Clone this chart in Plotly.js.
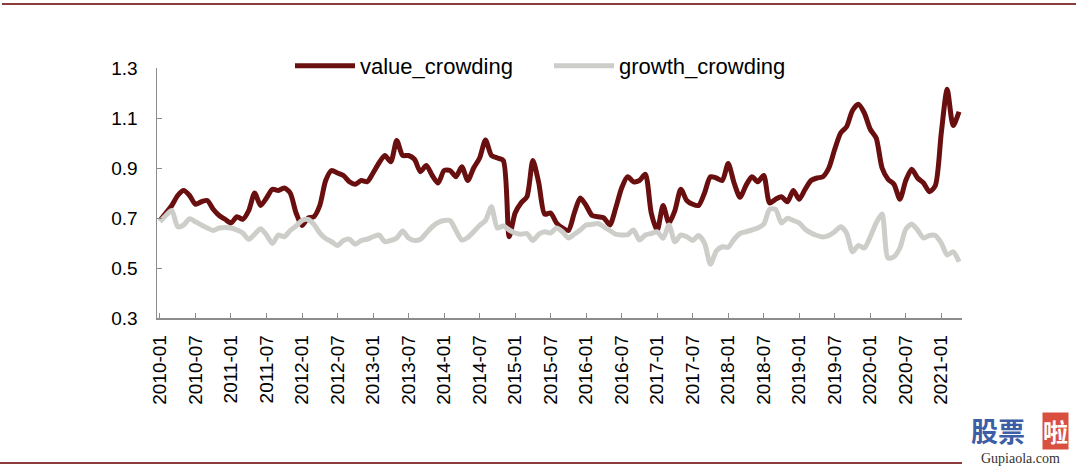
<!DOCTYPE html>
<html>
<head>
<meta charset="utf-8">
<script src="https://cdn.plot.ly/plotly-3.0.1.min.js"></script>
<style>html,body{margin:0;padding:0;background:#fff;}#chart{width:1080px;height:469px;}</style>
</head>
<body>
<div id="chart"></div>
<script>
// months 2010-01 .. 2021-04
var months = [];
for (var yr = 2010; yr <= 2021; yr++) {
  for (var m = 1; m <= 12; m++) {
    if (yr === 2021 && m > 4) break;
    months.push(yr + '-' + (m < 10 ? '0' + m : '' + m));
  }
}
var tickLabels = ['2010-01','2010-07','2011-01','2011-07','2012-01','2012-07','2013-01','2013-07','2014-01','2014-07','2015-01','2015-07','2016-01','2016-07','2017-01','2017-07','2018-01','2018-07','2019-01','2019-07','2020-01','2020-07','2021-01'];

var valueCrowding = [
0.69,0.72,0.75,0.79,0.81,0.79,0.755,0.765,0.77,0.735,0.71,0.695,
0.68,0.705,0.695,0.73,0.80,0.75,0.78,0.815,0.81,0.82,0.80,0.72,
0.67,0.70,0.705,0.75,0.85,0.89,0.88,0.87,0.845,0.835,0.85,0.845,
0.88,0.92,0.95,0.925,1.01,0.95,0.95,0.935,0.885,0.91,0.87,0.84,
0.89,0.89,0.865,0.905,0.85,0.90,0.94,1.012,0.95,0.94,0.93,0.625,
0.72,0.76,0.785,0.93,0.84,0.715,0.72,0.68,0.66,0.65,0.72,0.78,
0.75,0.71,0.705,0.70,0.672,0.74,0.82,0.865,0.845,0.85,0.875,0.72,
0.65,0.75,0.68,0.73,0.815,0.77,0.755,0.75,0.80,0.865,0.86,0.85,
0.918,0.84,0.783,0.83,0.865,0.845,0.87,0.76,0.775,0.785,0.765,0.81,
0.775,0.815,0.85,0.86,0.865,0.90,0.975,1.04,1.065,1.13,1.155,1.12,
1.055,1.02,0.90,0.855,0.835,0.775,0.85,0.895,0.86,0.84,0.805,0.83,
1.04,1.215,1.07,1.125];

var growthCrowding = [
0.685,0.71,0.73,0.665,0.672,0.697,0.685,0.672,0.66,0.65,0.66,0.662,
0.66,0.652,0.64,0.615,0.635,0.657,0.632,0.598,0.632,0.625,0.65,0.668,
0.69,0.694,0.675,0.64,0.618,0.605,0.59,0.61,0.615,0.595,0.61,0.615,
0.625,0.632,0.605,0.61,0.62,0.648,0.62,0.61,0.615,0.64,0.665,0.682,
0.69,0.69,0.65,0.612,0.622,0.645,0.67,0.69,0.745,0.66,0.668,0.652,
0.64,0.635,0.638,0.61,0.635,0.645,0.64,0.66,0.645,0.62,0.635,0.652,
0.672,0.675,0.678,0.665,0.65,0.635,0.632,0.633,0.652,0.612,0.632,0.638,
0.645,0.619,0.672,0.605,0.632,0.625,0.61,0.63,0.60,0.515,0.568,0.585,
0.583,0.615,0.638,0.645,0.652,0.66,0.675,0.735,0.735,0.68,0.699,0.69,
0.68,0.655,0.64,0.63,0.624,0.63,0.645,0.665,0.64,0.565,0.59,0.58,
0.625,0.68,0.716,0.54,0.545,0.58,0.655,0.676,0.652,0.62,0.63,0.63,
0.60,0.552,0.565,0.525];

var seriesNames = ['value_crowding', 'growth_crowding'];
var yTicks = [0.3, 0.5, 0.7, 0.9, 1.1, 1.3];

var traces = [
  {x: months, y: valueCrowding, name: seriesNames[0], type: 'scatter', mode: 'lines',
   line: {color: '#6a0f0f', width: 5, shape: 'spline', smoothing: 0.7}},
  {x: months, y: growthCrowding, name: seriesNames[1], type: 'scatter', mode: 'lines',
   line: {color: '#cdcdc9', width: 5, shape: 'spline', smoothing: 0.7}}
];

function px2x(px) { return (px - 157) / 805; }
function py2y(py) { return (318 - py) / 250; }

var layout = {
  width: 1080, height: 469,
  margin: {l: 157, r: 118, t: 68, b: 151},
  paper_bgcolor: '#ffffff', plot_bgcolor: '#ffffff',
  font: {family: 'Liberation Sans, Arial, sans-serif', color: '#000'},
  showlegend: true,
  legend: {orientation: 'h', x: px2x(290), xanchor: 'left', y: py2y(66), yanchor: 'middle',
           font: {size: 22, color: '#000'}, bgcolor: 'rgba(0,0,0,0)',
           entrywidth: 184, entrywidthmode: 'pixels', itemwidth: 60},
  xaxis: {type: 'category', range: [-0.5, months.length - 0.5], showgrid: false, zeroline: false,
          showline: true, linecolor: '#8c8c8c', linewidth: 1.5,
          ticks: 'inside', ticklen: 5, tickcolor: '#8c8c8c', tickwidth: 1,
          tickmode: 'array', tickvals: tickLabels, ticktext: tickLabels,
          tickangle: -90, tickfont: {size: 19, color: '#000'}, ticklabelstandoff: 8},
  yaxis: {range: [0.3, 1.3], showgrid: false, zeroline: false,
          showline: true, linecolor: '#8c8c8c', linewidth: 1.5,
          ticks: 'inside', ticklen: 5, tickcolor: '#8c8c8c', tickwidth: 1,
          tickmode: 'array', tickvals: yTicks, ticktext: yTicks.map(function(v){return v.toFixed(1);}),
          tickfont: {size: 19, color: '#000'}, ticklabelstandoff: 14},
  shapes: [
    {type: 'line', xref: 'paper', yref: 'paper', x0: px2x(2), x1: px2x(1076), y0: py2y(4), y1: py2y(4),
     line: {color: '#8a3c3c', width: 2}},
    {type: 'line', xref: 'paper', yref: 'paper', x0: px2x(0), x1: px2x(962), y0: py2y(463), y1: py2y(463),
     line: {color: '#8a3c3c', width: 2}}
  ],
  annotations: [
    {text: '<b>股票</b>', xref: 'paper', yref: 'paper', x: px2x(998), y: py2y(430), xanchor: 'center', yanchor: 'middle',
     showarrow: false, font: {family: 'Noto Sans CJK SC', size: 27, color: '#3b5ea6'}},
    {text: '<b>啦</b>', xref: 'paper', yref: 'paper', x: px2x(1055), y: py2y(431), xanchor: 'center', yanchor: 'middle',
     showarrow: false, bgcolor: '#d9503f', borderpad: 0, font: {family: 'Noto Sans CJK SC', size: 25, color: '#ffffff'}},
    {text: 'Gupiaola.com', xref: 'paper', yref: 'paper', x: px2x(1021), y: py2y(458), xanchor: 'center', yanchor: 'middle',
     showarrow: false, font: {family: 'Liberation Serif, serif', size: 14, color: '#333'}}
  ]
};

Plotly.newPlot('chart', traces, layout, {displayModeBar: false, staticPlot: true});
</script>
</body>
</html>
